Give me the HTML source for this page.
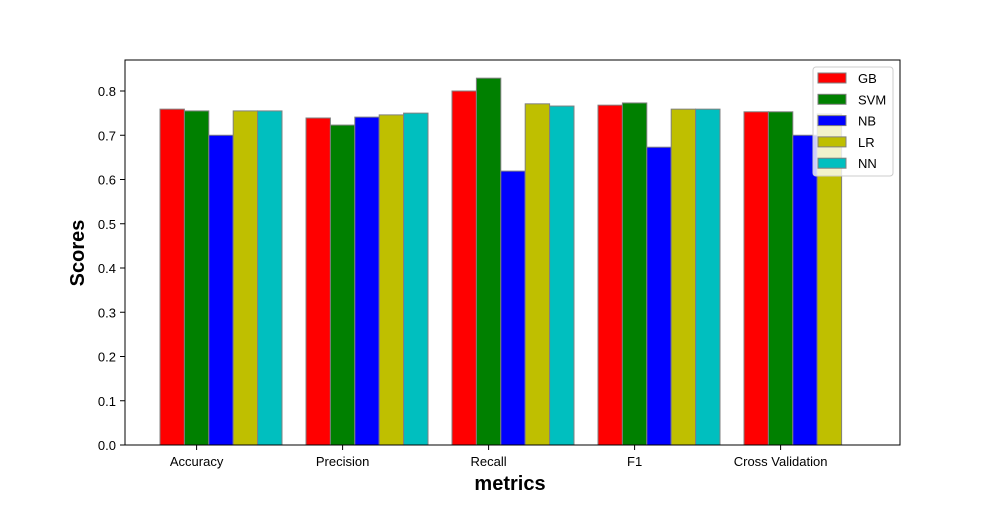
<!DOCTYPE html>
<html><head><meta charset="utf-8"><style>
body{margin:0;background:#fff;font-family:"Liberation Sans",sans-serif}
text{font-family:"Liberation Sans",sans-serif}
</style></head><body>
<svg width="1000" height="500">
<g id="bars"></g>
<rect x="125" y="60" width="775" height="385" fill="none" stroke="#000"/>
<g id="axes"></g>
<text x="510" y="490" font-size="20" font-weight="bold" text-anchor="middle">metrics</text>
<text transform="translate(84,253) rotate(-90)" font-size="20" font-weight="bold" text-anchor="middle">Scores</text>
<g id="legend"></g>
</svg>
<script>
const categories=["Accuracy","Precision","Recall","F1","Cross Validation"];
const seriesNames=["GB","SVM","NB","LR","NN"];
const colors=["#ff0000","#008000","#0000ff","#bfbf00","#00bfbf"];
const gb=[0.759,0.739,0.800,0.768,0.753];
const svm=[0.755,0.723,0.829,0.773,0.753];
const nb=[0.700,0.741,0.619,0.673,0.700];
const lr=[0.755,0.746,0.771,0.759,0.748];
const nn=[0.755,0.750,0.766,0.759,null];
const yTicks=[0,0.1,0.2,0.3,0.4,0.5,0.6,0.7,0.8];
const series=[gb,svm,nb,lr,nn];
const ns="http://www.w3.org/2000/svg";
const y0=445,yScale=442.5,bw=24.4,groupStart=160,groupStep=146;
const yPos=v=>y0-v*yScale;
const xPos=(c,s)=>groupStart+c*groupStep+s*bw;
function mk(tag,attrs,parent){const e=document.createElementNS(ns,tag);for(const k in attrs)e.setAttribute(k,attrs[k]);parent.appendChild(e);return e;}
const bars=document.getElementById('bars');
series.forEach((arr,s)=>arr.forEach((v,c)=>{
 if(v==null)return;
 const r=mk('rect',{x:xPos(c,s),y:yPos(v),width:bw,height:v*yScale,fill:colors[s],stroke:'#808080','stroke-width':1},bars);
 
 
}));
const axes=document.getElementById('axes');
yTicks.forEach(t=>{
 const y=yPos(t);
 mk('line',{x1:120,x2:125,y1:y,y2:y,stroke:'#000'},axes);
 const tx=mk('text',{x:116,y:y+5,'font-size':13,'text-anchor':'end'},axes);
 tx.textContent=t.toFixed(1);
 
 
});
categories.forEach((c,i)=>{
 const x=xPos(i,1)+bw/2;
 mk('line',{x1:x,x2:x,y1:445,y2:450,stroke:'#000'},axes);
 const tx=mk('text',{x:x,y:466,'font-size':13,'text-anchor':'middle'},axes);
 tx.textContent=c;
 
 
});
const lg=document.getElementById('legend');
mk('rect',{x:813,y:67,width:80,height:109,rx:3,fill:'#fff','fill-opacity':0.8,stroke:'#ccc'},lg);
seriesNames.forEach((n,i)=>{
 const y=73+i*21.3;
 const r=mk('rect',{x:818,y:y,width:28,height:10,fill:colors[i],stroke:'#808080'},lg);
 
 
 const t=mk('text',{x:858,y:y+10,'font-size':13},lg);
 t.textContent=n;
 
 
});
</script>
</body></html>
